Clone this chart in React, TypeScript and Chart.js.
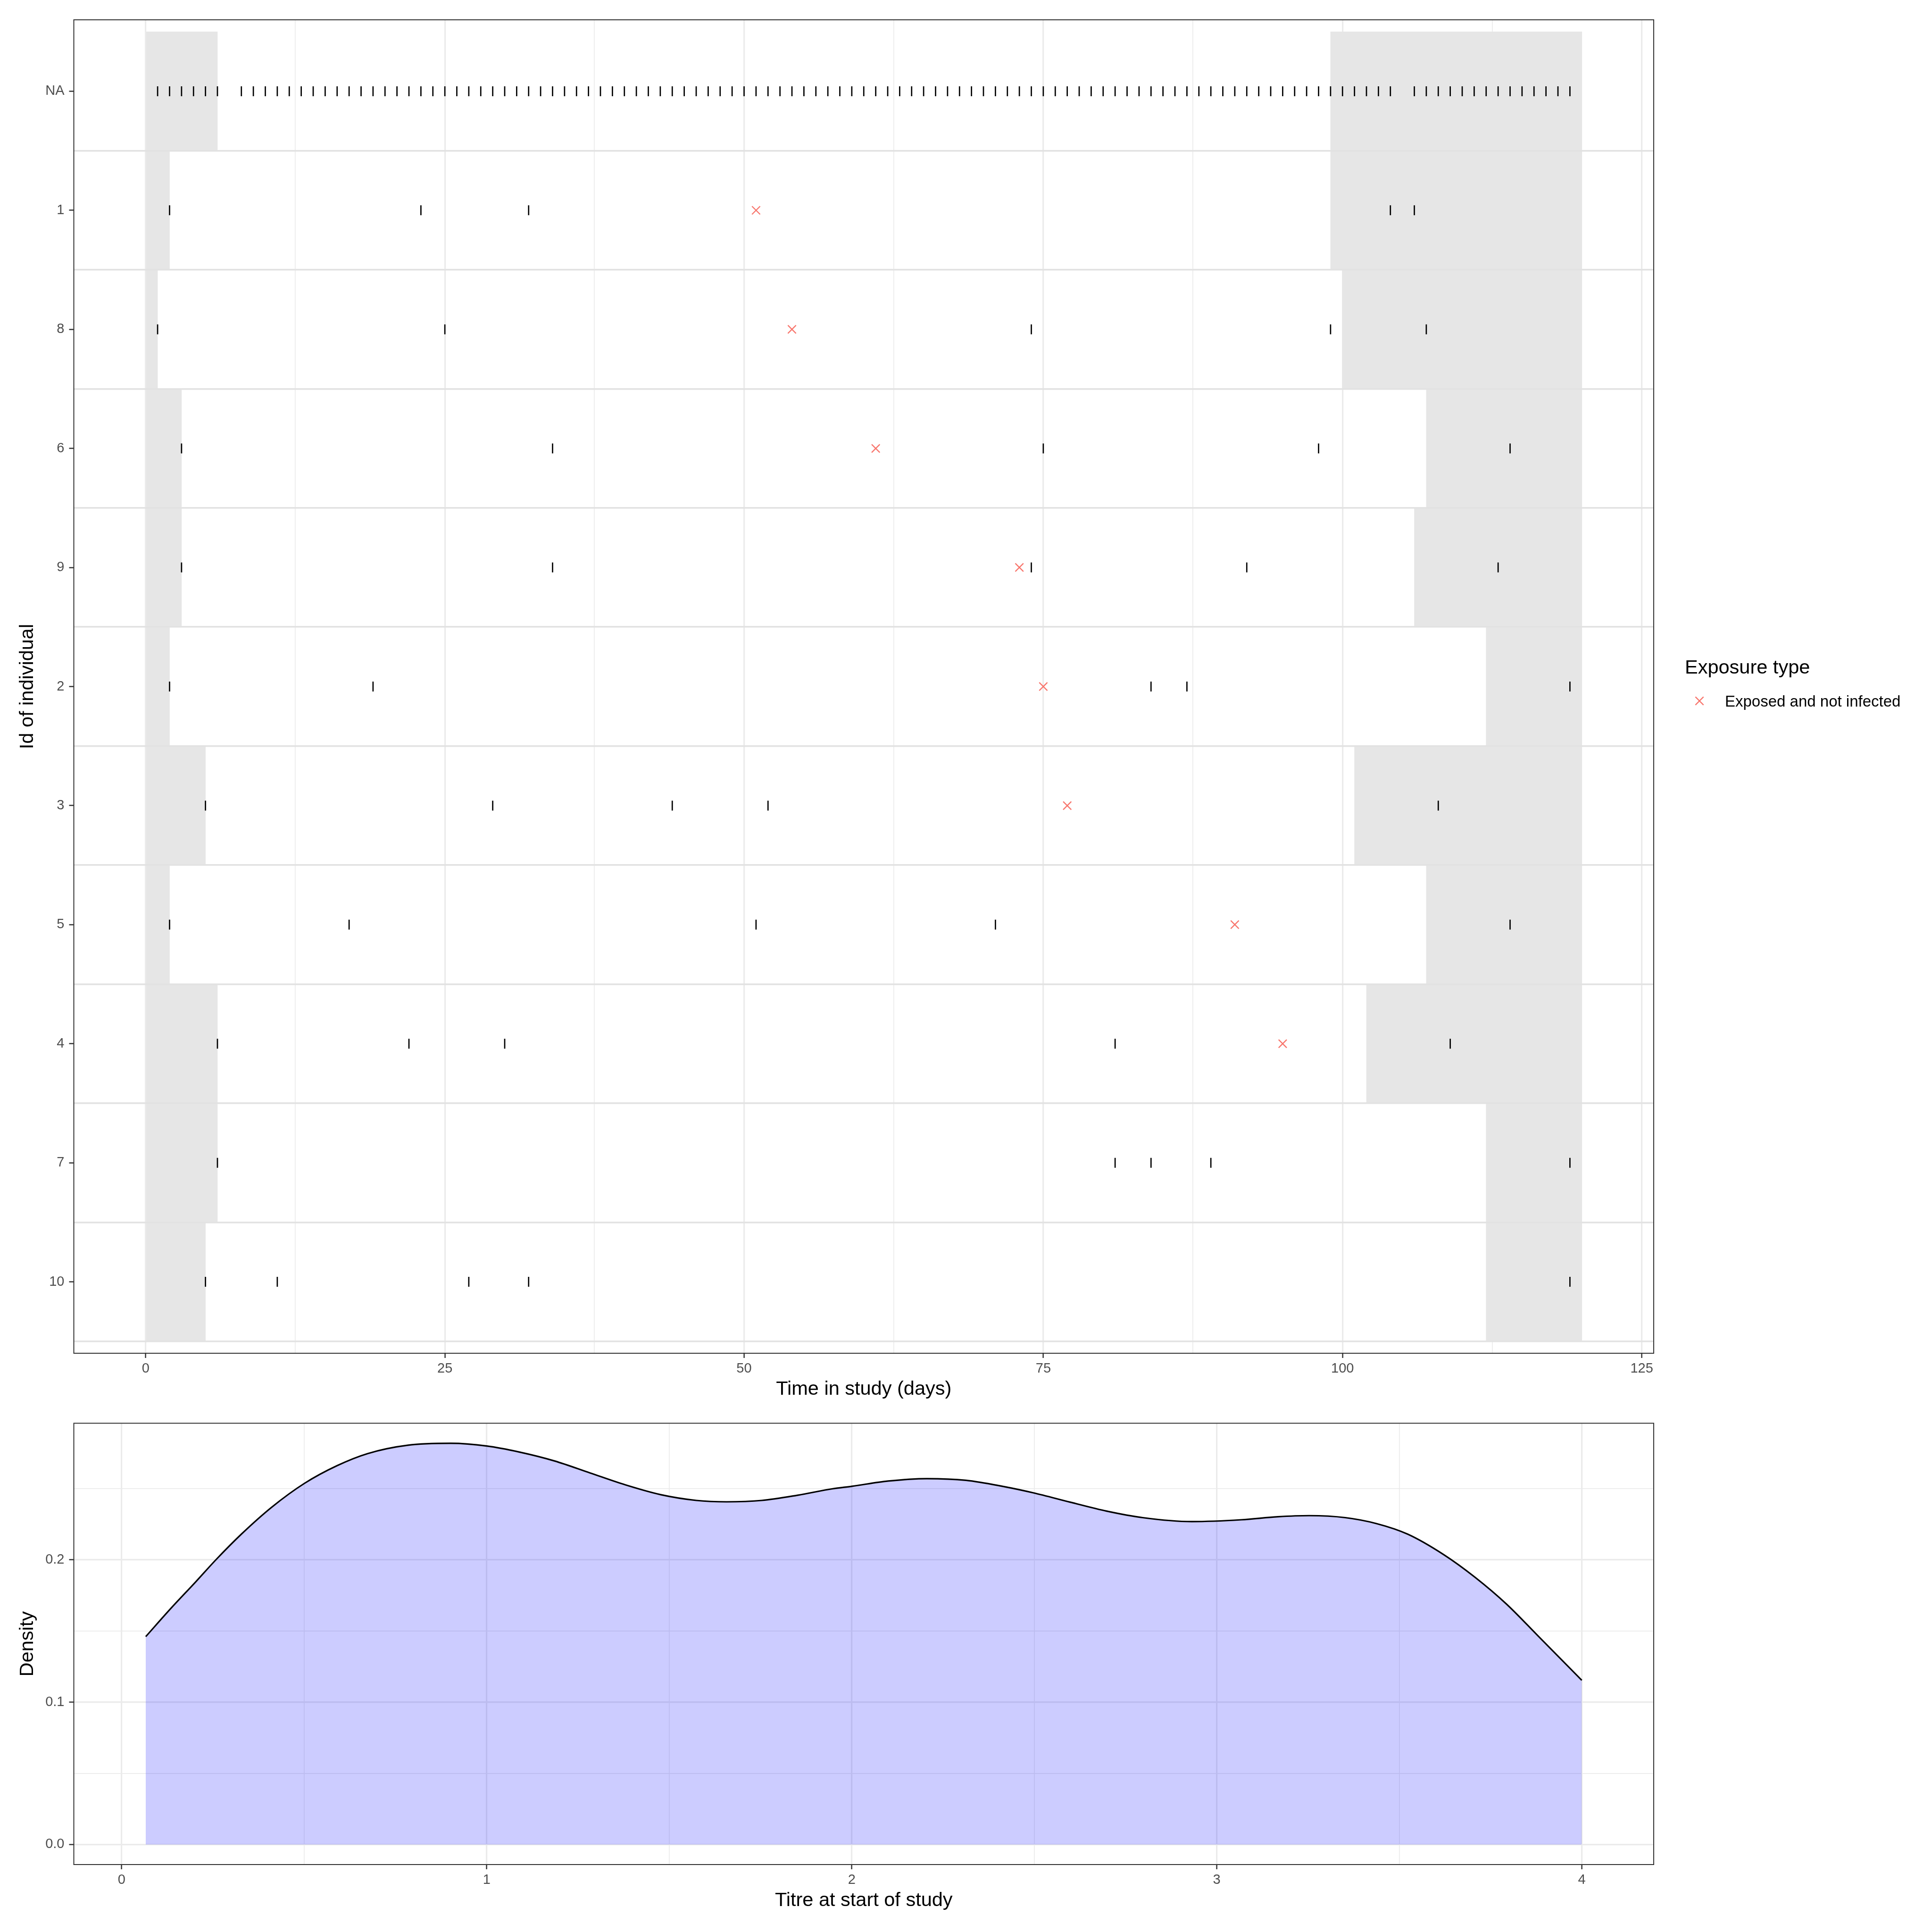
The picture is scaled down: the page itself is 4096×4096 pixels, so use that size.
import React, { useEffect, useRef } from "react";
import { Chart, registerables } from "chart.js";

Chart.register(...registerables);

// ---------------- data ----------------
const individuals = ["NA", "1", "8", "6", "9", "2", "3", "5", "4", "7", "10"];
const studyStart = 0;
const studyEnd = 120;
// grey band at the start of each row ends at:
const startBandEnd = [6, 2, 1, 3, 3, 2, 5, 2, 6, 6, 5];
// grey band at the end of each row starts at:
const endBandStart = [99, 99, 100, 107, 106, 112, 101, 107, 102, 112, 112];

const samplingNA = [
  1, 2, 3, 4, 5, 6,
  8, 9, 10, 11, 12, 13, 14, 15, 16, 17, 18, 19, 20, 21, 22, 23, 24, 25, 26, 27, 28, 29, 30,
  31, 32, 33, 34, 35, 36, 37, 38, 39, 40, 41, 42, 43, 44, 45, 46, 47, 48, 49, 50, 51, 52, 53,
  54, 55, 56, 57, 58, 59, 60, 61, 62, 63, 64, 65, 66, 67, 68, 69, 70, 71, 72, 73, 74, 75, 76,
  77, 78, 79, 80, 81, 82, 83, 84, 85, 86, 87, 88, 89, 90, 91, 92, 93, 94, 95, 96, 97, 98, 99,
  100, 101, 102, 103, 104,
  106, 107, 108, 109, 110, 111, 112, 113, 114, 115, 116, 117, 118, 119,
];
const sampling1 = [2, 23, 32, 104, 106];
const sampling8 = [1, 25, 74, 99, 107];
const sampling6 = [3, 34, 75, 98, 114];
const sampling9 = [3, 34, 74, 92, 113];
const sampling2 = [2, 19, 84, 87, 119];
const sampling3 = [5, 29, 44, 52, 108];
const sampling5 = [2, 17, 51, 71, 114];
const sampling4 = [6, 22, 30, 81, 109];
const sampling7 = [6, 81, 84, 89, 119];
const sampling10 = [5, 11, 27, 32, 119];
const samplingByRow = [
  samplingNA, sampling1, sampling8, sampling6, sampling9, sampling2,
  sampling3, sampling5, sampling4, sampling7, sampling10,
];
// exposed and not infected (null = none)
const exposureDay: (number | null)[] = [null, 51, 54, 61, 73, 75, 77, 91, 95, null, null];

const timeTickValues = [0, 25, 50, 75, 100, 125];
const timeTickLabels = ["0", "25", "50", "75", "100", "125"];
const timeMinorValues = [12.5, 37.5, 62.5, 87.5, 112.5];

// density of titre at start of study
const titreX = [
  0.066, 0.134, 0.203, 0.259, 0.328, 0.411, 0.501, 0.591, 0.674, 0.785, 0.902, 1.0, 1.089,
  1.186, 1.283, 1.38, 1.477, 1.574, 1.657, 1.754, 1.851, 1.948, 2.0, 2.1, 2.206, 2.313, 2.413,
  2.498, 2.598, 2.698, 2.797, 2.932, 3.068, 3.167, 3.253, 3.352, 3.438, 3.523, 3.623, 3.708,
  3.794, 3.879, 4.0,
];
const densityY = [
  0.146, 0.1656, 0.1845, 0.2002, 0.218, 0.2369, 0.2537, 0.2662, 0.2746, 0.2805, 0.2818, 0.2799,
  0.2757, 0.2694, 0.261, 0.2526, 0.2457, 0.2417, 0.2407, 0.2417, 0.2453, 0.2499, 0.2516, 0.2553,
  0.257, 0.2558, 0.2516, 0.247, 0.2405, 0.2342, 0.2296, 0.2268, 0.2281, 0.2302, 0.231, 0.2296,
  0.2254, 0.218, 0.2034, 0.1876, 0.1688, 0.1468, 0.1153,
];
const titreTickValues = [0, 1, 2, 3, 4];
const titreTickLabels = ["0", "1", "2", "3", "4"];
const titreMinorValues = [0.5, 1.5, 2.5, 3.5];
const densityTickValues = [0, 0.1, 0.2];
const densityTickLabels = ["0.0", "0.1", "0.2"];
const densityMinorValues = [0.05, 0.15, 0.25];

// ---------------- style ----------------
const FONT = "'Liberation Sans', Arial, Helvetica, sans-serif";
const TICK_FONT = { family: FONT, size: 29, lineHeight: 1.2 };
const TITLE_FONT = { family: FONT, size: 41.5, lineHeight: 1.2 };
const GRID = "#ebebeb";
const AXIS_DARK = "#333333";
const TICK_TEXT = "#4d4d4d";

const near = (list: number[], v: number) => list.some((t) => Math.abs(t - v) < 1e-9);
const sorted = (a: number[], b: number[]) => [...a, ...b].sort((p, q) => p - q);

const framePlugin = {
  id: "frame",
  afterDraw(chart: any) {
    const { ctx, chartArea: a } = chart;
    ctx.save();
    ctx.strokeStyle = AXIS_DARK;
    ctx.lineWidth = 2;
    ctx.strokeRect(a.left, a.top, a.right - a.left, a.bottom - a.top);
    ctx.restore();
  },
};

const legendPlugin = {
  id: "exposureLegend",
  afterDraw(chart: any) {
    const ctx = chart.ctx;
    ctx.save();
    ctx.fillStyle = "#000";
    ctx.textBaseline = "alphabetic";
    ctx.textAlign = "left";
    ctx.font = `41.5px ${FONT}`;
    ctx.fillText("Exposure type", 3572, 1428);
    // cross key
    const cx = 3603, cy = 1486, h = 8.6;
    ctx.strokeStyle = "#F8766D";
    ctx.lineWidth = 2.4;
    ctx.beginPath();
    ctx.moveTo(cx - h, cy - h);
    ctx.lineTo(cx + h, cy + h);
    ctx.moveTo(cx + h, cy - h);
    ctx.lineTo(cx - h, cy + h);
    ctx.stroke();
    ctx.font = `33px ${FONT}`;
    ctx.fillText("Exposed and not infected", 3657, 1498);
    ctx.restore();
  },
};

export default function App() {
  const topRef = useRef<HTMLCanvasElement>(null);
  const botRef = useRef<HTMLCanvasElement>(null);

  useEffect(() => {
    document.body.style.margin = "0";
    Chart.defaults.font.family = FONT;

    const rowData = individuals.map((_, i) => i);

    const top = new Chart(topRef.current as HTMLCanvasElement, {
      type: "scatter",
      data: {
        datasets: [
          {
            type: "scatter",
            label: "Exposed and not infected",
            data: exposureDay.flatMap((d, i) => (d == null ? [] : [{ x: d, y: i }])),
            pointStyle: "crossRot",
            pointRadius: 12.2,
            pointBorderWidth: 2.4,
            borderColor: "#F8766D",
            pointBorderColor: "#F8766D",
            backgroundColor: "#F8766D",
            order: 0,
          },
          {
            type: "scatter",
            label: "Sampling",
            data: samplingByRow.flatMap((days, i) => days.map((d) => ({ x: d, y: i }))),
            pointStyle: "line",
            pointRotation: 90,
            pointRadius: 10.5,
            pointBorderWidth: 2.7,
            borderColor: "#000",
            pointBorderColor: "#000",
            backgroundColor: "#000",
            order: 1,
          },
          {
            type: "bar",
            label: "start band",
            indexAxis: "y",
            grouped: false,
            data: rowData.map((i) => ({ y: i, x: [studyStart, startBandEnd[i]] })),
            backgroundColor: "#e6e6e6",
            borderWidth: 0,
            barPercentage: 1,
            categoryPercentage: 1,
            order: 10,
          },
          {
            type: "bar",
            label: "end band",
            indexAxis: "y",
            grouped: false,
            data: rowData.map((i) => ({ y: i, x: [endBandStart[i], studyEnd] })),
            backgroundColor: "#e6e6e6",
            borderWidth: 0,
            barPercentage: 1,
            categoryPercentage: 1,
            order: 10,
          },
        ] as any,
      },
      options: {
        animation: false,
        responsive: false,
        devicePixelRatio: 1,
        events: [],
        layout: { padding: { left: 0, top: 42, right: 590, bottom: 20 } },
        plugins: { legend: { display: false }, tooltip: { enabled: false } },
        scales: {
          x: {
            type: "linear",
            min: -6,
            max: 126,
            beginAtZero: false,
            afterBuildTicks: (s: any) => {
              s.ticks = sorted(timeTickValues, timeMinorValues).map((v) => ({ value: v }));
            },
            afterFit: (s: any) => {
              s.height = 101;
            },
            ticks: {
              autoSkip: false,
              maxRotation: 0,
              padding: 5.6,
              color: TICK_TEXT,
              font: TICK_FONT,
              callback: (v: any) => {
                const k = timeTickValues.indexOf(Number(v));
                return k >= 0 ? timeTickLabels[k] : "";
              },
            },
            grid: {
              color: GRID,
              lineWidth: (c: any) => (c.tick && near(timeTickValues, c.tick.value) ? 3.2 : 1.7),
              tickLength: 10,
              tickWidth: 2.5,
              tickColor: (c: any) =>
                c.tick && near(timeTickValues, c.tick.value) ? AXIS_DARK : "rgba(0,0,0,0)",
            },
            border: { display: false },
            title: {
              display: true,
              text: "Time in study (days)",
              color: "#000",
              font: TITLE_FONT,
              padding: { top: 0, bottom: 0 },
            },
          },
          y: {
            type: "linear",
            min: -0.6,
            max: 10.6,
            reverse: true,
            offset: false,
            afterBuildTicks: (s: any) => {
              s.ticks = rowData.map((i) => ({ value: i }));
            },
            afterFit: (s: any) => {
              s.width = 156.5;
            },
            ticks: {
              autoSkip: false,
              padding: 10,
              color: TICK_TEXT,
              font: TICK_FONT,
              callback: (v: any) => individuals[Math.round(Number(v))] ?? "",
            },
            grid: {
              offset: false,
              drawOnChartArea: false,
              drawTicks: true,
              tickLength: 10,
              tickWidth: 2.5,
              tickColor: AXIS_DARK,
            },
            border: { display: false },
            title: {
              display: true,
              text: "Id of individual",
              color: "#000",
              font: TITLE_FONT,
              padding: { top: 34, bottom: 0 },
            },
          },
          y2: {
            type: "linear",
            position: "right",
            min: -0.6,
            max: 10.6,
            reverse: true,
            afterBuildTicks: (s: any) => {
              s.ticks = rowData.map((i) => ({ value: i + 0.5 }));
            },
            afterFit: (s: any) => {
              s.width = 0;
            },
            ticks: { display: false },
            grid: { color: "#e2e2e2", lineWidth: 3.6, drawTicks: false, z: 1 },
            border: { display: false },
          },
        } as any,
      },
      plugins: [framePlugin, legendPlugin],
    });

    const bot = new Chart(botRef.current as HTMLCanvasElement, {
      type: "line",
      data: {
        datasets: [
          {
            label: "Density",
            data: titreX.map((x, i) => ({ x, y: densityY[i] })),
            borderColor: "#000",
            borderWidth: 3.2,
            backgroundColor: "rgba(0,0,255,0.2)",
            fill: "origin",
            pointRadius: 0,
            cubicInterpolationMode: "monotone",
          },
        ] as any,
      },
      options: {
        animation: false,
        responsive: false,
        devicePixelRatio: 1,
        events: [],
        layout: { padding: { left: 0, top: 22, right: 590, bottom: 42 } },
        plugins: { legend: { display: false }, tooltip: { enabled: false } },
        scales: {
          x: {
            type: "linear",
            min: -0.131,
            max: 4.197,
            afterBuildTicks: (s: any) => {
              s.ticks = sorted(titreTickValues, titreMinorValues).map((v) => ({ value: v }));
            },
            afterFit: (s: any) => {
              s.height = 101;
            },
            ticks: {
              autoSkip: false,
              maxRotation: 0,
              padding: 5.6,
              color: TICK_TEXT,
              font: TICK_FONT,
              callback: (v: any) => {
                const k = titreTickValues.findIndex((t) => Math.abs(t - Number(v)) < 1e-9);
                return k >= 0 ? titreTickLabels[k] : "";
              },
            },
            grid: {
              color: GRID,
              lineWidth: (c: any) => (c.tick && near(titreTickValues, c.tick.value) ? 3.2 : 1.7),
              tickLength: 10,
              tickWidth: 2.5,
              tickColor: (c: any) =>
                c.tick && near(titreTickValues, c.tick.value) ? AXIS_DARK : "rgba(0,0,0,0)",
            },
            border: { display: false },
            title: {
              display: true,
              text: "Titre at start of study",
              color: "#000",
              font: TITLE_FONT,
              padding: { top: 0, bottom: 0 },
            },
          },
          y: {
            type: "linear",
            min: -0.0141,
            max: 0.2959,
            afterBuildTicks: (s: any) => {
              s.ticks = sorted(densityTickValues, densityMinorValues).map((v) => ({ value: v }));
            },
            afterFit: (s: any) => {
              s.width = 156.5;
            },
            ticks: {
              autoSkip: false,
              padding: 10,
              color: TICK_TEXT,
              font: TICK_FONT,
              callback: (v: any) => {
                const k = densityTickValues.findIndex((t) => Math.abs(t - Number(v)) < 1e-9);
                return k >= 0 ? densityTickLabels[k] : "";
              },
            },
            grid: {
              color: GRID,
              lineWidth: (c: any) => (c.tick && near(densityTickValues, c.tick.value) ? 3.2 : 1.7),
              tickLength: 10,
              tickWidth: 2.5,
              tickColor: (c: any) =>
                c.tick && near(densityTickValues, c.tick.value) ? AXIS_DARK : "rgba(0,0,0,0)",
            },
            border: { display: false },
            title: {
              display: true,
              text: "Density",
              color: "#000",
              font: TITLE_FONT,
              padding: { top: 34, bottom: 0 },
            },
          },
        } as any,
      },
      plugins: [framePlugin],
    });

    return () => {
      top.destroy();
      bot.destroy();
    };
  }, []);

  return (
    <div style={{ position: "absolute", left: 0, top: 0, width: 4096, height: 4096, background: "#fff" }}>
      <canvas
        ref={topRef}
        width={4096}
        height={2990}
        style={{ position: "absolute", left: 0, top: 0, width: 4096, height: 2990 }}
      />
      <canvas
        ref={botRef}
        width={4096}
        height={1106}
        style={{ position: "absolute", left: 0, top: 2990, width: 4096, height: 1106 }}
      />
    </div>
  );
}
